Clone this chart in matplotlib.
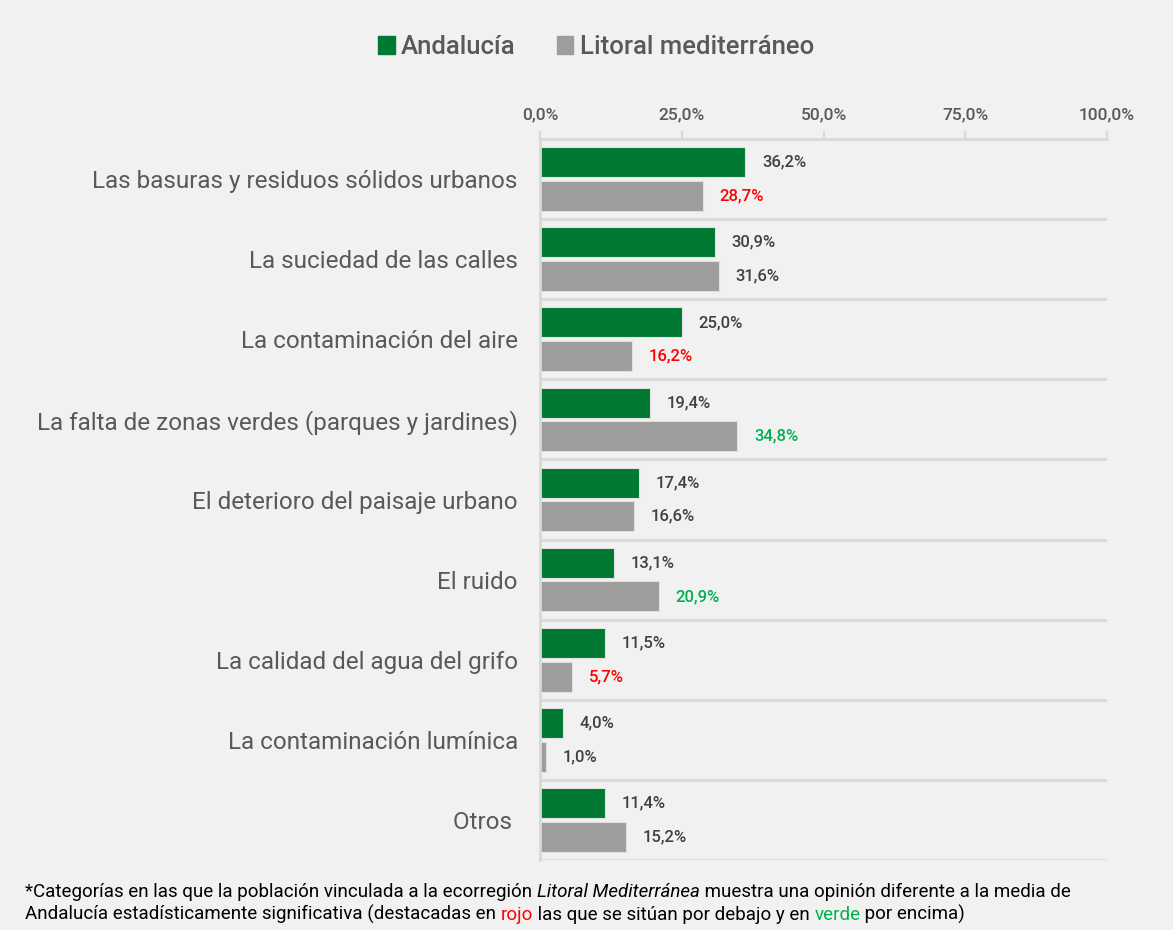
import matplotlib
matplotlib.use("Agg")
import matplotlib.pyplot as plt
import numpy as np
from matplotlib.patches import Patch

categories = [
    "Las basuras y residuos sólidos urbanos",
    "La suciedad de las calles",
    "La contaminación del aire",
    "La falta de zonas verdes (parques y jardines)",
    "El deterioro del paisaje urbano",
    "El ruido",
    "La calidad del agua del grifo",
    "La contaminación lumínica",
    "Otros ",
]
andalucia = [36.2, 30.9, 25.0, 19.4, 17.4, 13.1, 11.5, 4.0, 11.4]
litoral = [28.7, 31.6, 16.2, 34.8, 16.6, 20.9, 5.7, 1.0, 15.2]
# significance: -1 below (red), 1 above (green), 0 none
litoral_sig = [-1, 0, -1, 1, 0, 1, -1, 0, 0]
xticks = [0, 25, 50, 75, 100]
xtick_labels = ["0,0%", "25,0%", "50,0%", "75,0%", "100,0%"]

BG = "#f1f1f1"
GREEN = "#007a33"
GRAY = "#9d9d9b"
TXT = "#595959"
VAL = "#404040"
SIGCOL = {-1: "#ff0000", 0: VAL, 1: "#00b050"}
FONT = "Roboto"

W, H = 1173, 930
fig = plt.figure(figsize=(W / 100, H / 100), dpi=100, facecolor=BG)
ax = fig.add_axes([540 / W, 1 - 860 / H, (1107 - 540) / W, (860 - 139) / H])
ax.set_facecolor(BG)

n = len(categories)
y = np.arange(n)
bh = 0.375
ax.barh(y - 0.21, andalucia, height=bh, color=GREEN, edgecolor="#e0e0e0", linewidth=0.8)
ax.barh(y + 0.21, litoral, height=bh, color=GRAY, edgecolor="#e0e0e0", linewidth=0.8)

for i in range(n):
    ax.annotate(f"{andalucia[i]:.1f}%".replace(".", ","), (andalucia[i], y[i] - 0.21),
                xytext=(12, 0), textcoords="offset points", va="center", ha="left",
                fontsize=12, color=VAL, fontfamily=FONT, fontweight="medium")
    ax.annotate(f"{litoral[i]:.1f}%".replace(".", ","), (litoral[i], y[i] + 0.21),
                xytext=(12, 0), textcoords="offset points", va="center", ha="left",
                fontsize=12, color=SIGCOL[litoral_sig[i]], fontfamily=FONT, fontweight="medium")

ax.set_xlim(0, 100)
ax.set_ylim(n - 0.5, -0.5)
ax.set_yticks(y)
ax.set_yticklabels(categories, fontsize=17.5, color=TXT, fontfamily=FONT)
ax.tick_params(axis="y", length=0, pad=16)
ax.xaxis.tick_top()
ax.set_xticks(xticks)
ax.set_xticklabels(xtick_labels, fontsize=12.5, color=TXT, fontfamily=FONT, fontweight="medium")
ax.tick_params(axis="x", length=6, width=1.5, color="#d9d9d9", pad=6)

for s in ["right", "bottom"]:
    ax.spines[s].set_visible(False)
for s in ["top", "left"]:
    ax.spines[s].set_color("#d9d9d9")
    ax.spines[s].set_linewidth(2)
for b in np.arange(0.5, n, 1.0):
    ax.axhline(b, color="#d9d9d9", linewidth=2, zorder=0)

# legend
handles = [Patch(color=GREEN, label="Andalucía"), Patch(color=GRAY, label="Litoral mediterráneo")]
fig.legend(handles=handles, loc="center", bbox_to_anchor=(596 / W, 1 - 47 / H), ncol=2,
           frameon=False, prop={"family": FONT, "size": 18.5, "weight": "medium"}, labelcolor=TXT,
           handlelength=0.65, handleheight=0.65, handletextpad=0.25, columnspacing=1.6)

# footnote with mixed styles
renderer = fig.canvas.get_renderer()
def draw_line(pieces, x0, ypx):
    x = x0
    for txt, col, style in pieces:
        t = fig.text(x / W, 1 - ypx / H, txt, color=col, fontsize=13.5, fontfamily=FONT,
                     fontstyle=style, va="baseline", ha="left")
        bb = t.get_window_extent(renderer)
        x += bb.width
draw_line([
    ("*Categorías en las que la población vinculada a la ecorregión ", "black", "normal"),
    ("Litoral Mediterránea", "black", "italic"),
    (" muestra una opinión diferente a la media de", "black", "normal"),
], 25, 897)
draw_line([
    ("Andalucía estadísticamente significativa (destacadas en ", "black", "normal"),
    ("rojo", "#ff0000", "normal"),
    (" las que se sitúan por debajo y en ", "black", "normal"),
    ("verde", "#00b050", "normal"),
    (" por encima)", "black", "normal"),
], 25, 920)

fig.savefig("out.png", dpi=100, facecolor=BG)
